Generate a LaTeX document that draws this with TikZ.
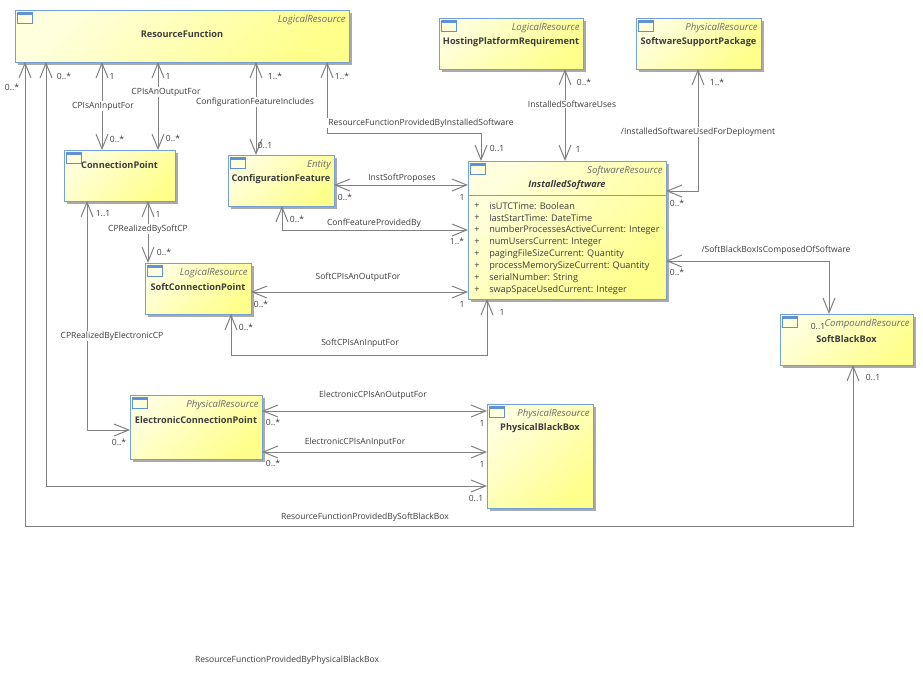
\documentclass[tikz,border=0pt]{standalone}
\usepackage{fontspec}
\setmainfont{Open Sans}
\usetikzlibrary{arrows.meta}
\definecolor{linec}{RGB}{128,128,128}
\definecolor{txtc}{RGB}{60,60,60}
\definecolor{sterc}{RGB}{105,105,105}
\definecolor{borderc}{RGB}{115,160,215}
\definecolor{iconc}{RGB}{95,145,215}
\definecolor{ylight}{RGB}{255,255,222}
\definecolor{ydark}{RGB}{255,255,140}
\definecolor{shadc}{RGB}{170,170,170}
\tikzset{
  box/.style={draw=borderc, line width=0.75pt, inner sep=0pt, outer sep=0pt,
    top color=ylight, bottom color=ydark, shading angle=45},
  assoc/.style={draw=linec, line width=0.75pt,
    {Straight Barb[length=11pt,width=9pt]}-{Straight Barb[length=11pt,width=9pt]}},
  mult/.style={font=\fontsize{6.4}{7.5}\selectfont, text=txtc, inner sep=0pt},
  aname/.style={font=\fontsize{6.4}{7.5}\selectfont, text=txtc, fill=white, inner sep=0.8pt},
  ster/.style={font=\fontsize{7.2}{8.5}\selectfont\itshape, text=sterc, inner sep=0pt},
  ttl/.style={font=\fontsize{6.9}{8}\selectfont\bfseries, text=txtc, inner sep=0pt},
  attr/.style={font=\fontsize{6.85}{8}\selectfont, text=txtc, inner sep=0pt, anchor=west},
}
% name x1 y1 x2 y2 stereotype title titleoffset
\newcommand\umlbox[8]{%
  \fill[shadc] ({#2+3},{#3+3}) rectangle ({#4+3},{#5+3});
  \node[box, minimum width={(#4-#2)*0.75pt}, minimum height={(#5-#3)*0.75pt}]
    (#1) at ({(#2+#4)/2},{(#3+#5)/2}) {};
  \fill[iconc] ({#2+2.5},{#3+2.5}) rectangle ({#2+17.5},{#3+5});
  \draw[draw=iconc, line width=0.75pt] ({#2+2.5},{#3+2.5}) rectangle ({#2+17.5},{#3+13.5});
  \node[ster, anchor=east] (#1-st) at ({#4-3},{#3+10}) {#6};
  \node[ttl] (#1-t) at ({(#2+#4)/2},{#3+#8}) {#7};
}
\begin{document}
\begin{tikzpicture}[x=0.75pt,y=-0.75pt]
\useasboundingbox (0,0) rectangle (923,672);

% boxes
\umlbox{rf}{15}{10}{349}{62}{LogicalResource}{ResourceFunction}{24.5}
\umlbox{hpr}{439}{18}{583}{69}{LogicalResource}{HostingPlatformRequirement}{24.5}
\umlbox{ssp}{636}{18}{761}{69}{PhysicalResource}{SoftwareSupportPackage}{24.5}
\umlbox{cp}{64}{150}{175}{201}{}{ConnectionPoint}{15}
\umlbox{cf}{228}{155}{334}{206}{Entity}{ConfigurationFeature}{24.5}
\umlbox{is}{468}{161}{666}{299}{SoftwareResource}{\itshape InstalledSoftware}{24}
\umlbox{scp}{145}{263}{251}{314}{LogicalResource}{SoftConnectionPoint}{24.5}
\umlbox{sbb}{780}{314}{913}{365}{CompoundResource}{SoftBlackBox}{25}
\umlbox{ecp}{130}{395}{262}{459}{PhysicalResource}{ElectronicConnectionPoint}{25}
\umlbox{pbb}{487}{404}{593}{508}{PhysicalResource}{PhysicalBlackBox}{24}

% InstalledSoftware attributes
\draw[draw=borderc, line width=0.75pt] (is.west |- 0,195) -- (is.east |- 0,195);
\foreach \t [count=\i] in {isUTCTime: Boolean, lastStartTime: DateTime,
  numberProcessesActiveCurrent: Integer, numUsersCurrent: Integer,
  pagingFileSizeCurrent: Quantity, processMemorySizeCurrent: Quantity,
  serialNumber: String, swapSpaceUsedCurrent: Integer}{
  \node[attr] (isp\i) at (474,{194+12*\i}) {+};
  \node[attr] (isa\i) at (489,{194+12*\i}) {\t};
}

% connectors
\draw[assoc] (rf.south -| 25,0) -- (25,526) -| (sbb.south -| 853,0);
\draw[assoc] (rf.south -| 46,0) -- (46,486) -- (pbb.west |- 0,486);
\draw[assoc] (rf.south -| 102,0) -- (cp.north -| 102,0);
\draw[assoc] (rf.south -| 158,0) -- (cp.north -| 158,0);
\draw[assoc] (rf.south -| 256,0) -- (cf.north -| 256,0);
\draw[assoc] (rf.south -| 327,0) -- (327,133) -| (is.north -| 481,0);
\draw[assoc] (hpr.south -| 565,0) -- (is.north -| 565,0);
\draw[assoc] (ssp.south -| 698,0) |- (is.east |- 0,191);
\draw[assoc] (cf.east |- 0,185) -- (is.west |- 0,185);
\draw[assoc] (cf.south -| 282,0) |- (is.west |- 0,230);
\draw[assoc] (scp.east |- 0,292) -- (is.west |- 0,292);
\draw[assoc] (scp.south -| 231,0) -- (231,355) -| (is.south -| 487,0);
\draw[assoc] (cp.south -| 148,0) -- (scp.north -| 148,0);
\draw[assoc] (cp.south -| 87,0) |- (ecp.west |- 0,430);
\draw[assoc] (ecp.east |- 0,411) -- (pbb.west |- 0,411);
\draw[assoc] (ecp.east |- 0,452) -- (pbb.west |- 0,452);
\draw[assoc] (is.east |- 0,261) -| (sbb.north -| 829,0);

% association names
\node[aname] (n1) at (365,517) {ResourceFunctionProvidedBySoftBlackBox};
\node[aname] (n2) at (287,660) {ResourceFunctionProvidedByPhysicalBlackBox};
\node[aname] (n3) at (103,106) {CPIsAnInputFor};
\node[aname] (n4) at (166,92) {CPIsAnOutputFor};
\node[aname] (n5) at (255,102) {ConfigurationFeatureIncludes};
\node[aname] (n6) at (421,123) {ResourceFunctionProvidedByInstalledSoftware};
\node[aname] (n7) at (572,104) {InstalledSoftwareUses};
\node[aname] (n8) at (698,132) {/InstalledSoftwareUsedForDeployment};
\node[aname] (n9) at (402,178) {InstSoftProposes};
\node[aname] (n10) at (374,223) {ConfFeatureProvidedBy};
\node[aname] (n11) at (358,277) {SoftCPIsAnOutputFor};
\node[aname] (n12) at (360,343) {SoftCPIsAnInputFor};
\node[aname] (n13) at (148,229) {CPRealizedBySoftCP};
\node[aname] (n14) at (112,336) {CPRealizedByElectronicCP};
\node[aname] (n15) at (373,395) {ElectronicCPIsAnOutputFor};
\node[aname] (n16) at (355,442) {ElectronicCPIsAnInputFor};
\node[aname] (n17) at (776,250) {/SoftBlackBoxIsComposedOfSoftware};

% multiplicities
\node[mult] (m1a) at (12,87) {0..*};
\node[mult] (m1b) at (873,377) {0..1};
\node[mult] (m2a) at (64,76) {0..*};
\node[mult] (m2b) at (476,498) {0..1};
\node[mult] (m3a) at (112,76) {1};
\node[mult] (m3b) at (117,139) {0..*};
\node[mult] (m4a) at (168,76) {1};
\node[mult] (m4b) at (173,138) {0..*};
\node[mult] (m5a) at (275,76) {1..*};
\node[mult] (m5b) at (265,145) {0..1};
\node[mult] (m6a) at (342,76) {1..*};
\node[mult] (m6b) at (497,148) {0..1};
\node[mult] (m7a) at (584,82) {0..*};
\node[mult] (m7b) at (578,149) {1};
\node[mult] (m8a) at (717,82) {1..*};
\node[mult] (m8b) at (677,203) {0..*};
\node[mult] (m9a) at (345,197) {0..*};
\node[mult] (m9b) at (462,197) {1};
\node[mult] (m10a) at (297,219) {0..*};
\node[mult] (m10b) at (457,241) {1..*};
\node[mult] (m11a) at (261,304) {0..*};
\node[mult] (m11b) at (462,304) {1};
\node[mult] (m12a) at (246,327) {0..*};
\node[mult] (m12b) at (502,312) {1};
\node[mult] (m13a) at (158,214) {1};
\node[mult] (m13b) at (164,252) {0..*};
\node[mult] (m14a) at (103,214) {1..1};
\node[mult] (m14b) at (119,442) {0..*};
\node[mult] (m15a) at (273,422) {0..*};
\node[mult] (m15b) at (482,423) {1};
\node[mult] (m16a) at (273,463) {0..*};
\node[mult] (m16b) at (482,464) {1};
\node[mult] (m17a) at (677,272) {0..*};
\node[mult] (m17b) at (818,326) {0..1};
\end{tikzpicture}
\end{document}
